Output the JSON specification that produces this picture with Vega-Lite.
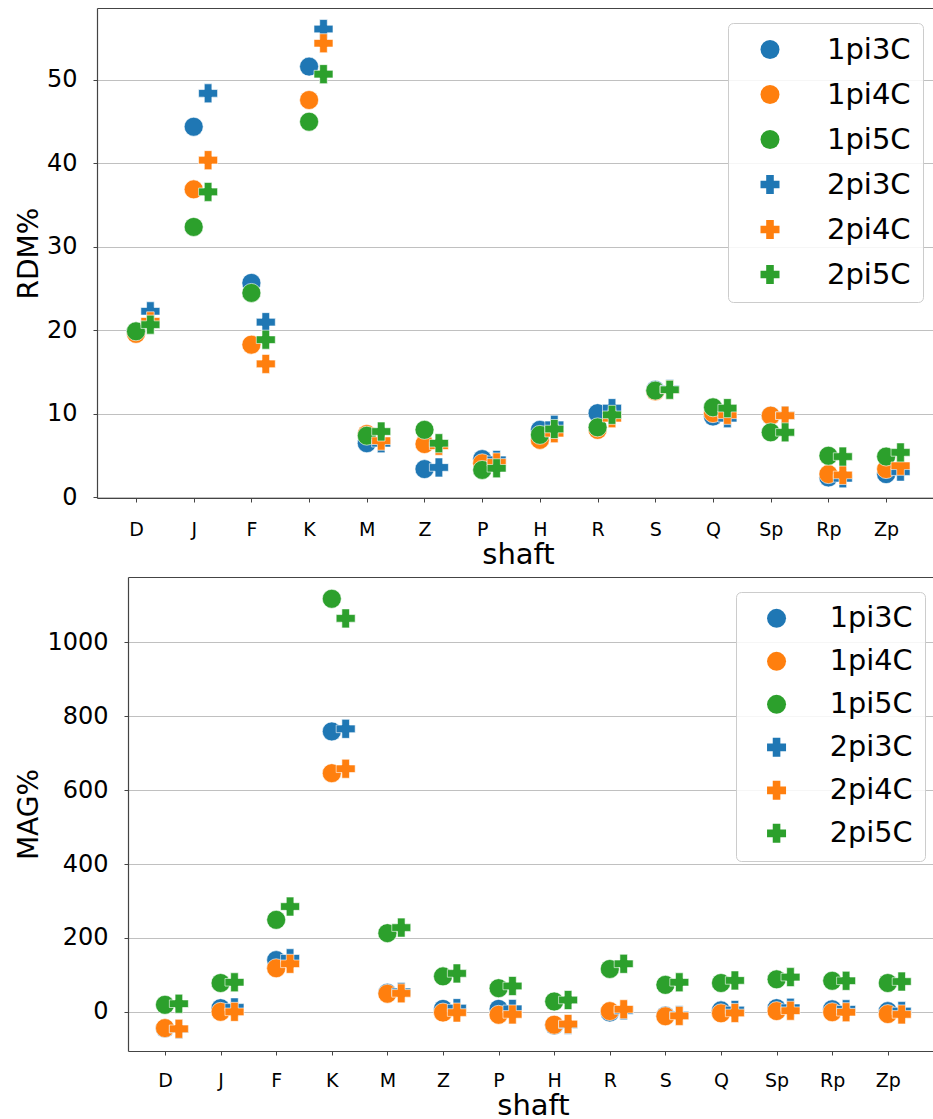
{
  "$schema": "https://vega.github.io/schema/vega-lite/v6.json",
  "padding": {"left": 15, "top": 8, "right": 0, "bottom": 0},
  "config": {
    "font": "DejaVu Sans",
    "view": {"stroke": null},
    "axis": {
      "labelFont": "DejaVu Sans",
      "titleFont": "DejaVu Sans",
      "labelColor": "#000000",
      "titleColor": "#000000",
      "titleFontWeight": "normal",
      "domainColor": "#444444",
      "domainWidth": 1.2,
      "tickColor": "#444444",
      "tickSize": 4,
      "gridColor": "#b0b0b0",
      "gridOpacity": 0.8,
      "gridWidth": 1
    },
    "legend": {
      "labelFont": "DejaVu Sans",
      "labelColor": "#000000"
    }
  },
  "data": {
    "values": [
      {"shaft": "D", "run": "1pi", "series": "1pi3C", "rdm": 19.8, "mag": -45},
      {"shaft": "D", "run": "1pi", "series": "1pi4C", "rdm": 19.6, "mag": -44},
      {"shaft": "D", "run": "1pi", "series": "1pi5C", "rdm": 19.9, "mag": 19},
      {"shaft": "D", "run": "2pi", "series": "2pi3C", "rdm": 22.3, "mag": -47},
      {"shaft": "D", "run": "2pi", "series": "2pi4C", "rdm": 21.1, "mag": -46},
      {"shaft": "D", "run": "2pi", "series": "2pi5C", "rdm": 20.7, "mag": 22},
      {"shaft": "J", "run": "1pi", "series": "1pi3C", "rdm": 44.4, "mag": 10},
      {"shaft": "J", "run": "1pi", "series": "1pi4C", "rdm": 36.9, "mag": 0},
      {"shaft": "J", "run": "1pi", "series": "1pi5C", "rdm": 32.4, "mag": 78},
      {"shaft": "J", "run": "2pi", "series": "2pi3C", "rdm": 48.4, "mag": 12},
      {"shaft": "J", "run": "2pi", "series": "2pi4C", "rdm": 40.4, "mag": 0},
      {"shaft": "J", "run": "2pi", "series": "2pi5C", "rdm": 36.6, "mag": 80},
      {"shaft": "F", "run": "1pi", "series": "1pi3C", "rdm": 25.7, "mag": 140},
      {"shaft": "F", "run": "1pi", "series": "1pi4C", "rdm": 18.3, "mag": 118},
      {"shaft": "F", "run": "1pi", "series": "1pi5C", "rdm": 24.5, "mag": 249},
      {"shaft": "F", "run": "2pi", "series": "2pi3C", "rdm": 21.0, "mag": 145},
      {"shaft": "F", "run": "2pi", "series": "2pi4C", "rdm": 16.0, "mag": 130},
      {"shaft": "F", "run": "2pi", "series": "2pi5C", "rdm": 18.9, "mag": 285},
      {"shaft": "K", "run": "1pi", "series": "1pi3C", "rdm": 51.6, "mag": 759},
      {"shaft": "K", "run": "1pi", "series": "1pi4C", "rdm": 47.6, "mag": 646},
      {"shaft": "K", "run": "1pi", "series": "1pi5C", "rdm": 45.0, "mag": 1118},
      {"shaft": "K", "run": "2pi", "series": "2pi3C", "rdm": 56.1, "mag": 766},
      {"shaft": "K", "run": "2pi", "series": "2pi4C", "rdm": 54.4, "mag": 658},
      {"shaft": "K", "run": "2pi", "series": "2pi5C", "rdm": 50.7, "mag": 1065},
      {"shaft": "M", "run": "1pi", "series": "1pi3C", "rdm": 6.5, "mag": 52},
      {"shaft": "M", "run": "1pi", "series": "1pi4C", "rdm": 7.6, "mag": 49},
      {"shaft": "M", "run": "1pi", "series": "1pi5C", "rdm": 7.4, "mag": 213},
      {"shaft": "M", "run": "2pi", "series": "2pi3C", "rdm": 6.5, "mag": 54},
      {"shaft": "M", "run": "2pi", "series": "2pi4C", "rdm": 6.8, "mag": 50},
      {"shaft": "M", "run": "2pi", "series": "2pi5C", "rdm": 7.9, "mag": 228},
      {"shaft": "Z", "run": "1pi", "series": "1pi3C", "rdm": 3.4, "mag": 8},
      {"shaft": "Z", "run": "1pi", "series": "1pi4C", "rdm": 6.4, "mag": -2},
      {"shaft": "Z", "run": "1pi", "series": "1pi5C", "rdm": 8.1, "mag": 96},
      {"shaft": "Z", "run": "2pi", "series": "2pi3C", "rdm": 3.6, "mag": 10},
      {"shaft": "Z", "run": "2pi", "series": "2pi4C", "rdm": 6.2, "mag": -2},
      {"shaft": "Z", "run": "2pi", "series": "2pi5C", "rdm": 6.5, "mag": 104},
      {"shaft": "P", "run": "1pi", "series": "1pi3C", "rdm": 4.6, "mag": 8},
      {"shaft": "P", "run": "1pi", "series": "1pi4C", "rdm": 4.1, "mag": -8},
      {"shaft": "P", "run": "1pi", "series": "1pi5C", "rdm": 3.3, "mag": 64},
      {"shaft": "P", "run": "2pi", "series": "2pi3C", "rdm": 4.5, "mag": 8},
      {"shaft": "P", "run": "2pi", "series": "2pi4C", "rdm": 4.2, "mag": -7},
      {"shaft": "P", "run": "2pi", "series": "2pi5C", "rdm": 3.5, "mag": 70},
      {"shaft": "H", "run": "1pi", "series": "1pi3C", "rdm": 8.1, "mag": -37},
      {"shaft": "H", "run": "1pi", "series": "1pi4C", "rdm": 6.9, "mag": -35},
      {"shaft": "H", "run": "1pi", "series": "1pi5C", "rdm": 7.5, "mag": 28},
      {"shaft": "H", "run": "2pi", "series": "2pi3C", "rdm": 8.7, "mag": -35},
      {"shaft": "H", "run": "2pi", "series": "2pi4C", "rdm": 7.7, "mag": -33},
      {"shaft": "H", "run": "2pi", "series": "2pi5C", "rdm": 8.2, "mag": 32},
      {"shaft": "R", "run": "1pi", "series": "1pi3C", "rdm": 10.1, "mag": -2},
      {"shaft": "R", "run": "1pi", "series": "1pi4C", "rdm": 8.1, "mag": 2},
      {"shaft": "R", "run": "1pi", "series": "1pi5C", "rdm": 8.4, "mag": 116},
      {"shaft": "R", "run": "2pi", "series": "2pi3C", "rdm": 10.7, "mag": 4},
      {"shaft": "R", "run": "2pi", "series": "2pi4C", "rdm": 9.5, "mag": 7},
      {"shaft": "R", "run": "2pi", "series": "2pi5C", "rdm": 9.9, "mag": 130},
      {"shaft": "S", "run": "1pi", "series": "1pi3C", "rdm": 12.9, "mag": -10},
      {"shaft": "S", "run": "1pi", "series": "1pi4C", "rdm": 12.7, "mag": -12},
      {"shaft": "S", "run": "1pi", "series": "1pi5C", "rdm": 12.8, "mag": 73},
      {"shaft": "S", "run": "2pi", "series": "2pi3C", "rdm": 13.0, "mag": -9},
      {"shaft": "S", "run": "2pi", "series": "2pi4C", "rdm": 12.9, "mag": -11},
      {"shaft": "S", "run": "2pi", "series": "2pi5C", "rdm": 12.9, "mag": 80},
      {"shaft": "Q", "run": "1pi", "series": "1pi3C", "rdm": 9.7, "mag": 4},
      {"shaft": "Q", "run": "1pi", "series": "1pi4C", "rdm": 10.1, "mag": -4},
      {"shaft": "Q", "run": "1pi", "series": "1pi5C", "rdm": 10.8, "mag": 78},
      {"shaft": "Q", "run": "2pi", "series": "2pi3C", "rdm": 9.5, "mag": 5},
      {"shaft": "Q", "run": "2pi", "series": "2pi4C", "rdm": 9.9, "mag": -3},
      {"shaft": "Q", "run": "2pi", "series": "2pi5C", "rdm": 10.7, "mag": 85},
      {"shaft": "Sp", "run": "1pi", "series": "1pi3C", "rdm": 9.8, "mag": 10},
      {"shaft": "Sp", "run": "1pi", "series": "1pi4C", "rdm": 9.8, "mag": 2},
      {"shaft": "Sp", "run": "1pi", "series": "1pi5C", "rdm": 7.8, "mag": 88},
      {"shaft": "Sp", "run": "2pi", "series": "2pi3C", "rdm": 9.8, "mag": 11},
      {"shaft": "Sp", "run": "2pi", "series": "2pi4C", "rdm": 9.8, "mag": 3},
      {"shaft": "Sp", "run": "2pi", "series": "2pi5C", "rdm": 7.8, "mag": 94},
      {"shaft": "Rp", "run": "1pi", "series": "1pi3C", "rdm": 2.4, "mag": 7},
      {"shaft": "Rp", "run": "1pi", "series": "1pi4C", "rdm": 2.8, "mag": -1},
      {"shaft": "Rp", "run": "1pi", "series": "1pi5C", "rdm": 5.0, "mag": 84},
      {"shaft": "Rp", "run": "2pi", "series": "2pi3C", "rdm": 2.3, "mag": 7},
      {"shaft": "Rp", "run": "2pi", "series": "2pi4C", "rdm": 2.7, "mag": -1},
      {"shaft": "Rp", "run": "2pi", "series": "2pi5C", "rdm": 4.9, "mag": 84},
      {"shaft": "Zp", "run": "1pi", "series": "1pi3C", "rdm": 2.8, "mag": 2},
      {"shaft": "Zp", "run": "1pi", "series": "1pi4C", "rdm": 3.4, "mag": -6},
      {"shaft": "Zp", "run": "1pi", "series": "1pi5C", "rdm": 4.9, "mag": 78},
      {"shaft": "Zp", "run": "2pi", "series": "2pi3C", "rdm": 3.1, "mag": 2},
      {"shaft": "Zp", "run": "2pi", "series": "2pi4C", "rdm": 3.8, "mag": -7},
      {"shaft": "Zp", "run": "2pi", "series": "2pi5C", "rdm": 5.4, "mag": 82}
    ]
  },
  "columns": 1,
  "spacing": 8,
  "resolve": {
    "scale": {"x": "independent", "y": "independent", "color": "independent", "shape": "independent"}
  },
  "concat": [
    {
      "width": 836,
      "height": 490,
      "resolve": {"scale": {"x": "independent"}, "axis": {"x": "independent"}},
      "layer": [
        {
          "transform": [{"filter": "datum.run == '1pi'"}],
          "mark": {"type": "point", "filled": true, "opacity": 1, "size": 361, "stroke": "#ffffff", "strokeWidth": 0.6},
          "encoding": {
            "x": {
              "field": "shaft", "type": "nominal",
              "scale": {"type": "point", "domain": ["D", "J", "F", "K", "M", "Z", "P", "H", "R", "S", "Q", "Sp", "Rp", "Zp"], "padding": 0.744, "align": 0.454, "round": false},
              "axis": {"labelAngle": 0, "labelFontSize": 19, "labelPadding": 18, "title": "shaft", "titleFontSize": 29, "titlePadding": 1, "titleX": 421}
            },
            "y": {
              "field": "rdm", "type": "quantitative",
              "scale": {"domain": [-0.06, 58.62], "nice": false, "zero": false},
              "axis": {"values": [0, 10, 20, 30, 40, 50], "format": "d", "labelFontSize": 24, "labelPadding": 16, "minExtent": 51, "maxExtent": 51, "title": "RDM%", "titleFontSize": 28, "titlePadding": 3}
            },
            "color": {
              "field": "series", "type": "nominal",
              "scale": {"domain": ["1pi3C", "1pi4C", "1pi5C", "2pi3C", "2pi4C", "2pi5C"], "range": ["#1f77b4", "#ff7f0e", "#2ca02c", "#1f77b4", "#ff7f0e", "#2ca02c"]},
              "legend": {"orient": "none", "legendX": 631, "legendY": 15, "title": null, "labelFontSize": 29, "symbolSize": 361, "padding": 12, "rowPadding": 15, "symbolOffset": 15.5, "labelOffset": 42.5, "fillColor": "rgba(255,255,255,0.85)", "strokeColor": "#cccccc", "cornerRadius": 5, "symbolStrokeWidth": 0}
            },
            "shape": {
              "field": "series", "type": "nominal",
              "scale": {"domain": ["1pi3C", "1pi4C", "1pi5C", "2pi3C", "2pi4C", "2pi5C"], "range": ["circle", "circle", "circle", "cross", "cross", "cross"]},
              "legend": {"orient": "none", "legendX": 631, "legendY": 15, "title": null, "labelFontSize": 29, "symbolSize": 361, "padding": 12, "rowPadding": 15, "symbolOffset": 15.5, "labelOffset": 42.5, "fillColor": "rgba(255,255,255,0.85)", "strokeColor": "#cccccc", "cornerRadius": 5, "symbolStrokeWidth": 0}
            }
          }
        },
        {
          "transform": [{"filter": "datum.run == '2pi'"}],
          "mark": {"type": "point", "filled": true, "opacity": 1, "size": 361, "stroke": "#ffffff", "strokeWidth": 0.6},
          "encoding": {
            "x": {
              "field": "shaft", "type": "nominal",
              "scale": {"type": "point", "domain": ["D", "J", "F", "K", "M", "Z", "P", "H", "R", "S", "Q", "Sp", "Rp", "Zp"], "padding": 0.744, "align": 0.6217, "round": false},
              "axis": {"orient": "top", "labels": false, "ticks": false, "grid": false, "title": null, "domain": true}
            },
            "y": {"field": "rdm", "type": "quantitative"},
            "color": {"field": "series", "type": "nominal"},
            "shape": {"field": "series", "type": "nominal"}
          }
        }
      ]
    },
    {
      "width": 836,
      "height": 474,
      "resolve": {"scale": {"x": "independent"}, "axis": {"x": "independent"}},
      "layer": [
        {
          "transform": [{"filter": "datum.run == '1pi'"}],
          "mark": {"type": "point", "filled": true, "opacity": 1, "size": 361, "stroke": "#ffffff", "strokeWidth": 0.6},
          "encoding": {
            "x": {
              "field": "shaft", "type": "nominal",
              "scale": {"type": "point", "domain": ["D", "J", "F", "K", "M", "Z", "P", "H", "R", "S", "Q", "Sp", "Rp", "Zp"], "range": [31, 836], "padding": 0.739, "align": 0.45, "round": false},
              "axis": {"labelAngle": 0, "labelFontSize": 19, "labelPadding": 16, "title": "shaft", "titleFontSize": 29, "titlePadding": 1, "titleX": 436}
            },
            "y": {
              "field": "mag", "type": "quantitative",
              "scale": {"domain": [-106, 1177], "nice": false, "zero": false},
              "axis": {"values": [0, 200, 400, 600, 800, 1000], "format": "d", "offset": -31, "labelFontSize": 24, "labelPadding": 16, "minExtent": 82, "maxExtent": 82, "title": "MAG%", "titleFontSize": 28, "titlePadding": 3}
            },
            "color": {
              "field": "series", "type": "nominal",
              "scale": {"domain": ["1pi3C", "1pi4C", "1pi5C", "2pi3C", "2pi4C", "2pi5C"], "range": ["#1f77b4", "#ff7f0e", "#2ca02c", "#1f77b4", "#ff7f0e", "#2ca02c"]},
              "legend": {"orient": "none", "legendX": 639, "legendY": 15, "title": null, "labelFontSize": 28.7, "symbolSize": 361, "padding": 12, "rowPadding": 13, "symbolOffset": 14.2, "labelOffset": 38.8, "fillColor": "rgba(255,255,255,0.85)", "strokeColor": "#cccccc", "cornerRadius": 5, "symbolStrokeWidth": 0}
            },
            "shape": {
              "field": "series", "type": "nominal",
              "scale": {"domain": ["1pi3C", "1pi4C", "1pi5C", "2pi3C", "2pi4C", "2pi5C"], "range": ["circle", "circle", "circle", "cross", "cross", "cross"]},
              "legend": {"orient": "none", "legendX": 639, "legendY": 15, "title": null, "labelFontSize": 28.7, "symbolSize": 361, "padding": 12, "rowPadding": 13, "symbolOffset": 14.2, "labelOffset": 38.8, "fillColor": "rgba(255,255,255,0.85)", "strokeColor": "#cccccc", "cornerRadius": 5, "symbolStrokeWidth": 0}
            }
          }
        },
        {
          "transform": [{"filter": "datum.run == '2pi'"}],
          "mark": {"type": "point", "filled": true, "opacity": 1, "size": 361, "stroke": "#ffffff", "strokeWidth": 0.6},
          "encoding": {
            "x": {
              "field": "shaft", "type": "nominal",
              "scale": {"type": "point", "domain": ["D", "J", "F", "K", "M", "Z", "P", "H", "R", "S", "Q", "Sp", "Rp", "Zp"], "range": [31, 836], "padding": 0.739, "align": 0.619, "round": false},
              "axis": {"orient": "top", "labels": false, "ticks": false, "grid": false, "title": null, "domain": true}
            },
            "y": {"field": "mag", "type": "quantitative"},
            "color": {"field": "series", "type": "nominal"},
            "shape": {"field": "series", "type": "nominal"}
          }
        }
      ]
    }
  ]
}
